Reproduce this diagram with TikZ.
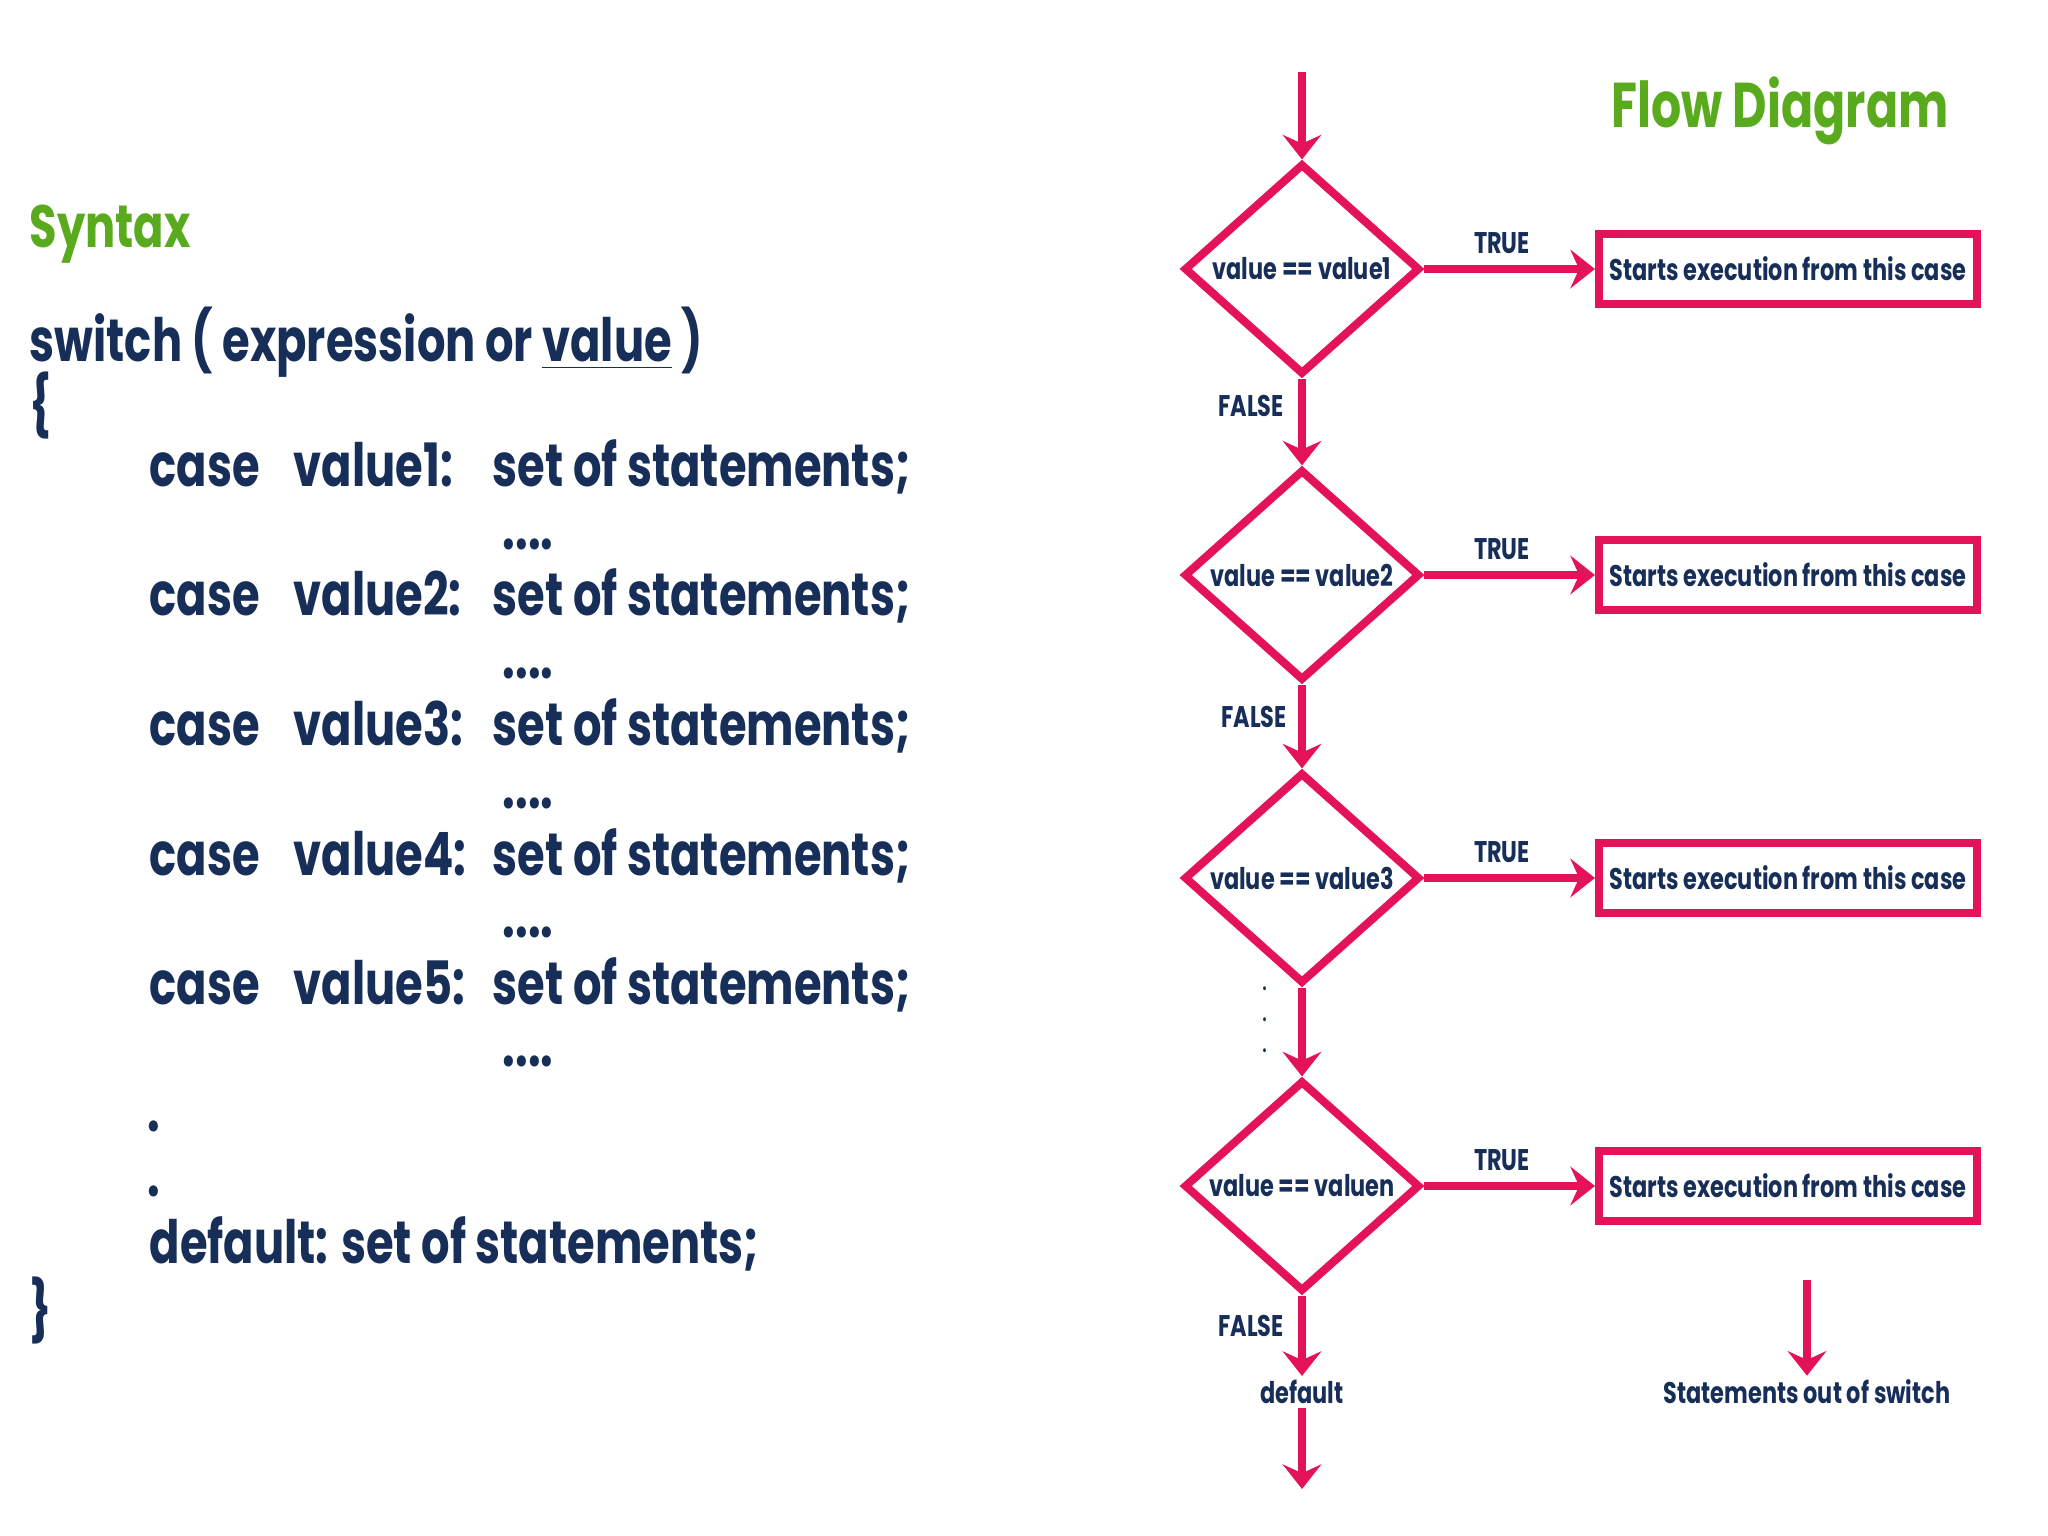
\documentclass[tikz,border=0pt]{standalone}
\usepackage{fontspec}
\setmainfont{Poppins}[FakeStretch=0.75]
\usetikzlibrary{shapes.geometric,arrows.meta}
\definecolor{flowred}{RGB}{228,18,88}
\definecolor{codeblue}{RGB}{22,46,88}
\definecolor{headgreen}{RGB}{90,170,30}
\begin{document}
\begin{tikzpicture}[y=-1cm,>={Stealth[length=7pt,width=11pt,inset=2.5pt]},
	code/.style={anchor=base west,inner sep=0pt,text=codeblue,font=\fontsize{17}{20}\selectfont\bfseries},
	head/.style={inner sep=0pt,text=headgreen,font=\fontsize{17}{20}\selectfont\bfseries},
	small/.style={inner sep=1pt,text=codeblue,font=\fontsize{8.5}{10}\selectfont\bfseries},
	test/.style={small,diamond,draw=flowred,line width=2.3pt,minimum width=2.36cm,minimum height=2.11cm,inner sep=0pt},
	casebox/.style={small,draw=flowred,line width=2.3pt,minimum width=3.78cm,minimum height=0.7cm},
	flow/.style={->,draw=flowred,line width=2.2pt}]
	\useasboundingbox (0,0) rectangle (20.48,15.36);
	% syntax side
	\node[head,anchor=base west] (syntax) at (0.29,2.48) {Syntax};
	\node[code] (switch) at (0.29,3.62) {switch ( expression or \underline{value} )};
	\node[code,anchor=west] (open) at (0.29,4.05) {\{};
	\foreach \i/\y in {1/4.87,2/6.16,3/7.46,4/8.75,5/10.04}{
		\node[code] (case\i) at (1.49,\y) {case};
		\node[code] (val\i) at (2.93,\y) {value\i:};
		\node[code] (stm\i) at (4.92,\y) {set of statements;};
		\node[code,anchor=center] (gap\i) at (5.28,\y+0.57) {....};
	}
	\node[code,anchor=center] (more1) at (1.54,11.26) {.};
	\node[code,anchor=center] (more2) at (1.54,11.91) {.};
	\node[code] (default) at (1.49,12.63) {default: set of statements;};
	\node[code,anchor=west] (close) at (0.29,13.10) {\}};
	% flow diagram side
	\node[head,font=\fontsize{18}{20}\selectfont\bfseries] (title) at (17.80,1.11) {Flow Diagram};
	\foreach \n/\y in {1/2.69,2/5.75,3/8.78,n/11.86}{
		\node[test] (d\n) at (13.02,\y) {value == value\n};
		\node[casebox] (b\n) at (17.88,\y) {Starts execution from this case};
		\node[small] (t\n) at (15.02,\y-0.26) {TRUE};
		\draw[flow] (d\n) -- (b\n);
	}
	\coordinate (start) at (13.02,0.72);
	\draw[flow] (start) -- (d1.north);
	\draw[flow] (d1.south) -- (d2.north);
	\node[small] (f1) at (12.51,4.06) {FALSE};
	\draw[flow] (d2.south) -- (d3.north);
	\node[small] (f2) at (12.54,7.17) {FALSE};
	\draw[flow] (d3.south) -- (dn.north);
	\foreach \y [count=\k] in {9.89,10.20,10.51}
		\node[small,font=\fontsize{9}{9}\selectfont] (vdot\k) at (12.65,\y) {.};
	\node[small] (fn) at (12.51,13.26) {FALSE};
	\node[small] (dflt) at (13.02,13.92) {default};
	\draw[flow] (dn.south) -- (dflt.north);
	\coordinate (end) at (13.02,14.89);
	\draw[flow] (dflt.south) -- (end);
	\node[small] (out) at (18.07,13.92) {Statements out of switch};
	\coordinate (outtop) at (18.07,12.80);
	\draw[flow] (outtop) -- (out.north);
\end{tikzpicture}
\end{document}
